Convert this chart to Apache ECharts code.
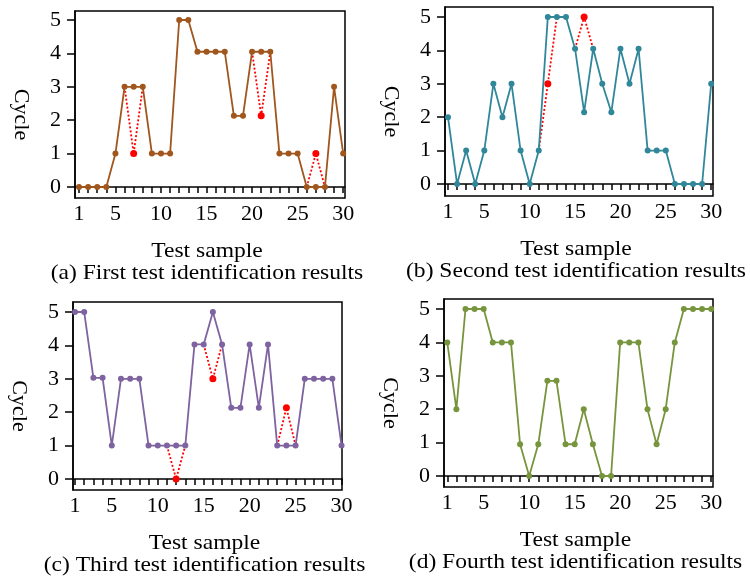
<!DOCTYPE html>
<html>
<head>
<meta charset="utf-8">
<script src="https://cdn.jsdelivr.net/npm/echarts@6/dist/echarts.min.js"></script>
<style>
  html, body { margin: 0; padding: 0; background: #fff; }
  #main { width: 750px; height: 578px; }
</style>
</head>
<body>
<div id="main"></div>
<script>
const samples = [1, 2, 3, 4, 5, 6, 7, 8, 9, 10, 11, 12, 13, 14, 15, 16, 17, 18, 19, 20, 21, 22, 23, 24, 25, 26, 27, 28, 29, 30]
const xTicks = samples
const xLabels = [1, 5, 10, 15, 20, 25, 30]
const yTicks = [0, 1, 2, 3, 4, 5]

// actual cycles
const firstTest = [0, 0, 0, 0, 1, 3, 3, 3, 1, 1, 1, 5, 5, 4.05, 4.05, 4.05, 4.05, 2.13, 2.13, 4.05, 4.05, 4.05, 1, 1, 1, 0, 0, 0, 3, 1]
const secondTest = [2, 0, 1, 0, 1, 3, 2, 3, 1, 0, 1, 5, 5, 5, 4.05, 2.15, 4.05, 3, 2.15, 4.05, 3, 4.05, 1, 1, 1, 0, 0, 0, 0, 3]
const thirdTest = [5, 5, 3.03, 3.03, 1, 3, 3, 3, 1, 1, 1, 1, 1, 4.03, 4.03, 5, 4.03, 2.13, 2.13, 4.03, 2.13, 4.03, 1, 1, 1, 3, 3, 3, 3, 1]
const fourthTest = [4, 2, 5, 5, 5, 4, 4, 4, 0.95, 0, 0.95, 2.85, 2.85, 0.95, 0.95, 2, 0.95, 0, 0, 4, 4, 4, 2, 0.95, 2, 4, 5, 5, 5, 5]

// misidentified segments (red dotted), null = no segment
const firstPred = [null, null, null, null, null, 3, 1, 3, null, null, null, null, null, null, null, null, null, null, null, 4.05, 2.13, 4.05, null, null, null, 0, 1, 0, null, null]
const secondPred = [null, null, null, null, null, null, null, null, null, null, 1, 3, 5, null, 4.05, 5, 4.05, null, null, null, null, null, null, null, null, null, null, null, null, null]
const thirdPred = [null, null, null, null, null, null, null, null, null, null, 1, 0, 1, null, 4.03, 3, 4.03, null, null, null, null, null, 1, 2.13, 1, null, null, null, null, null]

const panels = [
  { left: 75, top: 11, width: 270, height: 187, xMin: 0.56, xMax: 30.2, yMin: -0.33, yMax: 5.27, color: '#A0561C', actual: firstTest, pred: firstPred },
  { left: 445, top: 7, width: 268, height: 189, xMin: 0.67, xMax: 30.2, yMin: -0.36, yMax: 5.3, color: '#31879A', actual: secondTest, pred: secondPred },
  { left: 73, top: 302, width: 269, height: 188, xMin: 0.78, xMax: 30.05, yMin: -0.33, yMax: 5.3, color: '#7E63A0', actual: thirdTest, pred: thirdPred },
  { left: 444, top: 299, width: 269, height: 188, xMin: 0.64, xMax: 30.2, yMin: -0.33, yMax: 5.3, color: '#77953D', actual: fourthTest, pred: null }
]
const captions = [
  '(a) First test identification results',
  '(b) Second test identification results',
  '(c) Third test identification results',
  '(d) Fourth test identification results'
]

const font = 'Liberation Serif'
const chart = echarts.init(document.getElementById('main'))

const grid = [], xAxis = [], yAxis = [], series = [], graphic = []
panels.forEach(function (p, i) {
  grid.push({ left: p.left, top: p.top, width: p.width, height: p.height, show: true, borderColor: '#000', borderWidth: 1.5, containLabel: false })
  xAxis.push({
    type: 'value', gridIndex: i, min: p.xMin, max: p.xMax,
    axisLine: { show: true, lineStyle: { color: '#000', width: 1.5 } },
    axisTick: { show: true, length: 6, lineStyle: { color: '#000', width: 1.5 }, customValues: xTicks },
    axisLabel: { color: '#000', fontFamily: font, fontSize: 22, margin: 5, customValues: xLabels },
    splitLine: { show: false }
  })
  yAxis.push({
    type: 'value', gridIndex: i, min: p.yMin, max: p.yMax,
    axisLine: { show: true, lineStyle: { color: '#000', width: 1.5 } },
    axisTick: { show: true, length: 8, lineStyle: { color: '#000', width: 1.5 }, customValues: yTicks },
    axisLabel: { color: '#000', fontFamily: font, fontSize: 22, margin: 14, customValues: yTicks },
    splitLine: { show: false }
  })
  if (p.pred) {
    series.push({
      type: 'line', xAxisIndex: i, yAxisIndex: i, z: 2,
      data: samples.map(function (s, k) {
        const v = p.pred[k]
        if (v === null) return [s, null]
        return { value: [s, v], symbolSize: v !== p.actual[k] ? 7 : 0 }
      }),
      connectNulls: false,
      symbol: 'circle',
      lineStyle: { color: '#FF0000', width: 1.8, type: [2, 2] },
      itemStyle: { color: '#FF0000' },
      animation: false
    })
  }
  series.push({
    type: 'line', xAxisIndex: i, yAxisIndex: i, z: 3,
    data: samples.map(function (s, k) { return [s, p.actual[k]] }),
    symbol: 'circle', symbolSize: 6,
    lineStyle: { color: p.color, width: 1.8 },
    itemStyle: { color: p.color },
    animation: false
  })
  const cx = p.left + p.width / 2 - 3
  const bottom = p.top + p.height
  graphic.push({ type: 'text', x: cx, y: bottom + 53, scaleX: 1.07, style: { text: 'Test sample', font: '22px "' + font + '"', fill: '#000', align: 'center', verticalAlign: 'middle' } })
  graphic.push({ type: 'text', x: cx, y: bottom + 75, scaleX: 1.07, style: { text: captions[i], font: '22px "' + font + '"', fill: '#000', align: 'center', verticalAlign: 'middle' } })
  graphic.push({ type: 'text', x: p.left - 54, y: p.top + p.height / 2 + 10, rotation: -Math.PI / 2, style: { text: 'Cycle', font: '22px "' + font + '"', fill: '#000', align: 'center', verticalAlign: 'middle' } })
})

chart.setOption({ animation: false, grid: grid, xAxis: xAxis, yAxis: yAxis, series: series, graphic: graphic })
</script>
</body>
</html>
